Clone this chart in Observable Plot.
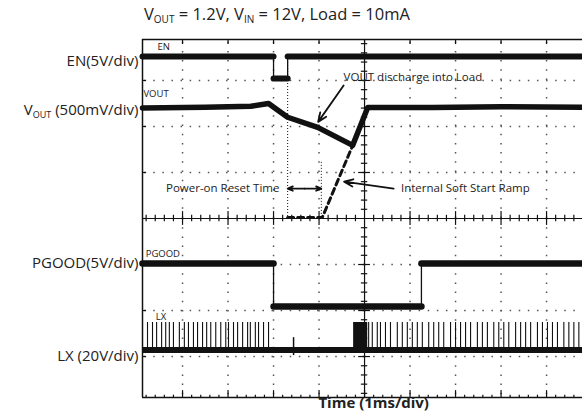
<!DOCTYPE html>
<html><head><meta charset="utf-8">
<script src="https://cdn.jsdelivr.net/npm/d3@7"></script>
<script src="https://cdn.jsdelivr.net/npm/@observablehq/plot@0.6"></script>
<style>
body{margin:0;background:#fff;font-family:"Open Sans",sans-serif;color:#222;}
#title{position:relative;height:36px;width:582px;}
#title span{position:absolute;left:144px;top:4px;font-size:16.5px;line-height:20px;white-space:nowrap;}
#title sub{font-size:10px;vertical-align:-3px;line-height:0;}
svg{display:block;}
</style></head><body>
<div id="title"><span>V<sub>OUT</sub> = 1.2V, V<sub>IN</sub> = 12V, Load = 10mA</span></div>
<div id="chart"></div>
<script>
// ---- axes (time in ms from centre, amplitude in divisions from centre) ----
const xMin = -4.88, xMax = 4.79, yMin = -3.89, yMax = 3.89;
const majorX = [-4, -3, -2, -1, 1, 2, 3, 4];
const majorY = [-3, -2, -1, 1, 2, 3];
const channelLabels = ["EN(5V/div)", "VOUT (500mV/div)", "PGOOD(5V/div)", "LX (20V/div)"];
const channelLabelY = [3.41, 2.35, -0.98, -3.0];
const channelTags = ["EN", "VOUT", "PGOOD", "LX"];
const channelTagX = [-4.55, -4.86, -4.81, -4.59];
const channelTagY = [3.72, 2.70, -0.76, -2.13];

// ---- EN trace ----
const enTime  = [-4.88, -2.00, -2.00, -1.69, -1.69, 4.79];
const enLevel = [ 3.52,  3.52,  3.04,  3.04,  3.52, 3.52];
// ---- VOUT trace ----
const voutTime  = [-4.88, -3.5, -2.5, -2.11, -1.69, -1.03, -0.26, 0.07, 1.5, 3.0, 4.79];
const voutLevel = [ 2.40,  2.42, 2.44,  2.50,  2.20,  1.98,  1.59, 2.41, 2.41, 2.43, 2.42];
// ---- internal soft start ramp (dashed) ----
const rampTime  = [-1.69, -0.93, -0.26];
const rampLevel = [ 0.02,  0.02,  1.59];
// ---- PGOOD trace ----
const pgTime  = [-4.88, -2.00, -2.00, 1.25, 1.25, 4.79];
const pgLevel = [-0.98, -0.98, -1.91, -1.91, -0.98, -0.98];
// ---- LX trace ----
const lxBase = -2.86, lxTop = -2.26;
const lxSpikes = [-4.77,-4.66,-4.57,-4.46,-4.37,-4.29,-4.20,-4.07,-3.96,-3.87,-3.76,-3.67,-3.56,-3.47,-3.38,-3.27,-3.16,-3.05,-2.99,-2.88,-2.79,-2.68,-2.57,-2.51,-2.40,-2.33,-2.22,-2.11,
  0.09,0.17,0.28,0.35,0.46,0.57,0.72,0.83,0.94,1.05,1.16,1.27,1.41,1.52,1.63,1.74,1.89,2.00,2.11,2.22,2.33,2.48,2.59,2.70,2.84,2.95,3.06,3.17,3.32,3.43,3.54,3.65,3.80,3.91,4.02,4.13,4.24,4.38,4.49,4.60,4.71];
const lxGlitch = {t: -1.56, lo: -2.98, hi: -2.59};
const lxBurst = {t1: -0.24, t2: 0.07, lo: -2.93, hi: -2.26};
// ---- markers / annotations ----
const markerTime = [-1.69, -0.95];
const markerTop  = [3.39, 1.22];
const annStartTexts = ["VOUT discharge into Load", "Internal Soft Start Ramp"];
const annStartX = [-0.46, 0.80];
const annStartY = [3.07, 0.65];
const annEndTexts = ["Power-on Reset Time"];
const annEndX = [-1.87];
const annEndY = [0.65];
const annArrows = [
  {x1: -0.46, y1: 2.89, x2: -1.02, y2: 2.10},
  {x1: -1.32, y1: 0.65, x2: -1.69, y2: 0.65},
  {x1: -1.32, y1: 0.65, x2: -0.95, y2: 0.65},
  {x1: 0.64, y1: 0.65, x2: -0.45, y2: 0.80}
];

const pts = (T, V) => T.map((t, i) => ({t, v: V[i]}));
function segments(T, V) {
  const flat = [], edges = [];
  for (let i = 0; i < T.length - 1; i++) {
    if (T[i] === T[i + 1]) edges.push({t: T[i], a: V[i], b: V[i + 1]});
    else flat.push({t1: T[i], t2: T[i + 1], a: V[i], b: V[i + 1], k: i});
  }
  return {flat, edges};
}
const en = segments(enTime, enLevel), pg = segments(pgTime, pgLevel);
const flatPts = s => s.flat.flatMap(d => [{t: d.t1, v: d.a, k: d.k}, {t: d.t2, v: d.b, k: d.k}]);

const minorX = d3.range(-24, 24).map(i => i / 5).filter(v => Math.abs(v - Math.round(v)) > 1e-6);
const minorY = d3.range(-19, 20).map(i => i / 5).filter(v => Math.abs(v - Math.round(v)) > 1e-6);
const allMajorX = [-4, -3, -2, -1, 0, 1, 2, 3, 4];
const allMajorY = [-3, -2, -1, 0, 1, 2, 3];
const ink = "#111", gridInk = "#555";

const chart = Plot.plot({
  width: 582, height: 383,
  marginLeft: 142, marginRight: 0, marginTop: 3, marginBottom: 22,
  x: {domain: [xMin, xMax], axis: null},
  y: {domain: [yMin, yMax], axis: null},
  style: {fontFamily: "Open Sans, sans-serif", background: "white", color: "#222", overflow: "visible"},
  marks: [
    // dotted graticule
    Plot.ruleX(majorX, {y1: 0, y2: yMax, stroke: gridInk, strokeWidth: 1.5, strokeDasharray: "1.5,7.7"}),
    Plot.ruleX(majorX, {y1: 0, y2: yMin, stroke: gridInk, strokeWidth: 1.5, strokeDasharray: "1.5,7.7"}),
    Plot.ruleY(majorY, {x1: 0, x2: xMin, stroke: gridInk, strokeWidth: 1.5, strokeDasharray: "1.5,7.6"}),
    Plot.ruleY(majorY, {x1: 0, x2: xMax, stroke: gridInk, strokeWidth: 1.5, strokeDasharray: "1.5,7.6"}),
    // centre axes with ticks
    Plot.ruleX([0], {y1: yMin, y2: yMax, stroke: ink, strokeWidth: 1.2}),
    Plot.ruleY([0], {x1: xMin, x2: xMax, stroke: ink, strokeWidth: 1.2}),
    Plot.ruleX(minorX, {y1: -0.07, y2: 0.07, stroke: ink, strokeWidth: 1.2}),
    Plot.ruleX(majorX, {y1: -0.15, y2: 0.15, stroke: ink, strokeWidth: 1.2}),
    Plot.ruleY(minorY, {x1: -0.07, x2: 0.07, stroke: ink, strokeWidth: 1.2}),
    Plot.ruleY(majorY, {x1: -0.13, x2: 0.13, stroke: ink, strokeWidth: 1.2}),
    // frame and frame ticks
    Plot.ruleY([yMax, yMin], {x1: xMin, x2: xMax, stroke: ink, strokeWidth: 1.5}),
    Plot.ruleX([xMin], {y1: yMin, y2: yMax, stroke: ink, strokeWidth: 1.5}),
    Plot.ruleX(minorX, {y1: yMin, y2: yMin + 0.05, stroke: ink, strokeWidth: 1.2}),
    Plot.ruleX(allMajorX, {y1: yMin, y2: yMin + 0.15, stroke: ink, strokeWidth: 1.2}),
    Plot.ruleX(allMajorX, {y1: yMax, y2: yMax - 0.11, stroke: ink, strokeWidth: 1.2}),
    Plot.ruleY(allMajorY, {x1: xMin, x2: xMin + 0.09, stroke: ink, strokeWidth: 1.2}),
    // dotted marker lines
    Plot.ruleX(markerTime, {y1: markerTop, y2: [0.02, 0.02], stroke: ink, strokeWidth: 1, strokeDasharray: "1,2"}),
    // EN
    Plot.ruleX(en.edges, {x: "t", y1: "a", y2: "b", stroke: ink, strokeWidth: 1.3}),
    Plot.line(flatPts(en), {x: "t", y: "v", z: "k", stroke: ink, strokeWidth: 6}),
    // VOUT
    Plot.line(pts(voutTime, voutLevel), {x: "t", y: "v", stroke: ink, strokeWidth: 5.5, strokeLinejoin: "round"}),
    // soft start ramp
    Plot.line(pts(rampTime, rampLevel), {x: "t", y: "v", stroke: ink, strokeWidth: 3, strokeDasharray: "6,4"}),
    // PGOOD
    Plot.ruleX(pg.edges, {x: "t", y1: "a", y2: "b", stroke: ink, strokeWidth: 1.3}),
    Plot.line(flatPts(pg), {x: "t", y: "v", z: "k", stroke: ink, strokeWidth: 6.5}),
    // LX
    Plot.ruleX(lxSpikes, {y1: lxBase, y2: lxTop, stroke: ink, strokeWidth: 1.1}),
    Plot.ruleX([lxGlitch], {x: "t", y1: "lo", y2: "hi", stroke: ink, strokeWidth: 1.5}),
    Plot.rect([lxBurst], {x1: "t1", x2: "t2", y1: "lo", y2: "hi", fill: ink}),
    Plot.ruleY([lxBase], {x1: xMin, x2: xMax, stroke: ink, strokeWidth: 6}),
    // annotations
    Plot.arrow(annArrows, {x1: "x1", y1: "y1", x2: "x2", y2: "y2", stroke: ink, strokeWidth: 1.8, headLength: 8, headAngle: 45}),
    Plot.text(annStartTexts, {x: annStartX, y: annStartY, text: d => d, textAnchor: "start", fontSize: 11.5, fill: "#222"}),
    Plot.text(annEndTexts, {x: annEndX, y: annEndY, text: d => d, textAnchor: "end", fontSize: 11.5, fill: "#222"}),
    // channel tags inside the screen
    Plot.text(channelTags, {x: channelTagX, y: channelTagY, text: d => d, textAnchor: "start", fontSize: 9.5, fill: "#222"}),
    // channel labels on the left
    Plot.text(channelLabels, {x: xMin, y: channelLabelY, text: d => d, textAnchor: "end", dx: -4, fontSize: 15, fill: "#222"}),
    // x label
    Plot.text(["Time (1ms/div)"], {x: 0.2, frameAnchor: "bottom", dy: 10, text: d => d, fontSize: 15, fontWeight: "bold", fill: "#222"})
  ]
});

d3.select(chart).selectAll("text").each(function () {
  if (this.textContent === "VOUT (500mV/div)") {
    const t = d3.select(this);
    t.text("");
    t.append("tspan").text("V");
    t.append("tspan").attr("font-size", 9).attr("dy", 3).text("OUT");
    t.append("tspan").attr("dy", -3).text(" (500mV/div)");
  }
});
document.getElementById("chart").append(chart);
</script>
</body></html>
